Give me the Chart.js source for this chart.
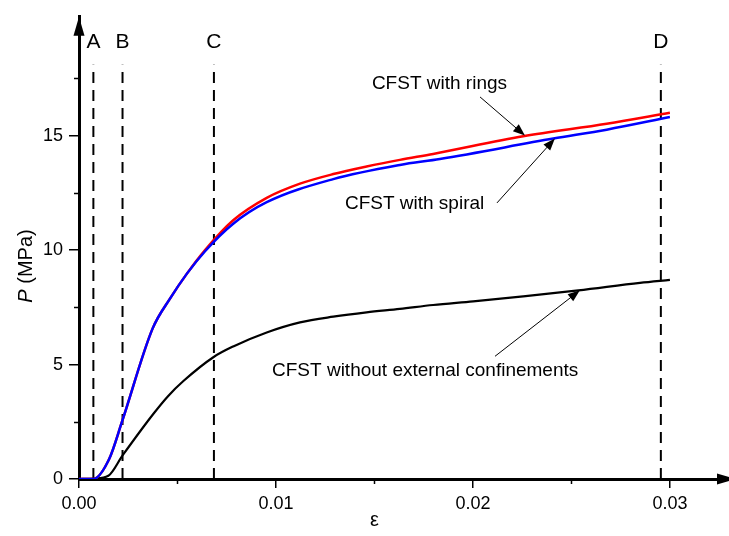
<!DOCTYPE html>
<html>
<head>
<meta charset="utf-8">
<script src="https://cdn.jsdelivr.net/npm/chart.js@4"></script>
<style>
  html, body { margin: 0; padding: 0; background: #fff; }
  #wrap { width: 729px; height: 536px; }
</style>
</head>
<body>
<div id="wrap"><canvas id="chart" width="729" height="536"></canvas></div>
<script>
/* Load-strain curves of CFST columns */

// strain (x) and load P in MPa (y) for each curve
const ringsStrain = [0, 0.00073, 0.00152, 0.0022, 0.00374, 0.00462, 0.00547, 0.0064, 0.00783, 0.00953, 0.01122, 0.01291, 0.0146, 0.01629, 0.01798, 0.02255, 0.02679, 0.030];
const ringsLoad   = [0, 0, 0.85, 2.55, 6.58, 7.88, 8.96, 10.0, 11.3, 12.28, 12.9, 13.32, 13.65, 13.94, 14.2, 14.97, 15.52, 16.0];

const spiralStrain = [0, 0.00073, 0.00152, 0.0022, 0.00374, 0.00462, 0.00547, 0.0064, 0.00783, 0.00953, 0.01291, 0.01629, 0.01832, 0.02408, 0.02679, 0.030];
const spiralLoad   = [0, 0, 0.85, 2.55, 6.58, 7.88, 8.96, 9.95, 11.15, 12.09, 13.1, 13.72, 13.98, 14.87, 15.26, 15.81];

const plainStrain = [0, 0.0008, 0.00149, 0.00222, 0.00377, 0.00453, 0.0053, 0.00682, 0.00783, 0.00953, 0.01122, 0.01291, 0.0146, 0.01629, 0.01798, 0.02001, 0.02255, 0.02535, 0.02848, 0.030];
const plainLoad   = [0, 0.02, 0.14, 1.04, 2.84, 3.63, 4.28, 5.32, 5.79, 6.4, 6.84, 7.09, 7.28, 7.43, 7.6, 7.76, 7.98, 8.24, 8.57, 8.70];

// stage markers A-D (vertical dashed lines)
const stageLabels = ['A', 'B', 'C', 'D'];
const stageStrain = [0.00073, 0.00221, 0.00685, 0.02954];
const stageTop = 18.1;

// axes
const xTicks = [0, 0.01, 0.02, 0.03];
const xMinor = [0.005, 0.015, 0.025];
const yTicks = [0, 5, 10, 15];
const yMinor = [2.5, 7.5, 12.5, 17.5];
const xMax = 0.033;
const yMax = 20.19;

// curve labels with arrows, in data coordinates
const notes = [
  { text: 'CFST with rings', at: [0.01487, 17.25], from: [0.02036, 16.69], to: [0.02264, 15.0] },
  { text: 'CFST with spiral', at: [0.0135, 12.02], from: [0.02122, 12.06], to: [0.02416, 14.87] },
  { text: 'CFST without external confinements', at: [0.0098, 4.71], from: [0.02112, 5.36], to: [0.02543, 8.24] },
];

const FONT = '"Liberation Sans", Arial, sans-serif';

const toXY = (xs, ys) => xs.map((v, i) => ({ x: v, y: ys[i] }));

function curve(label, xs, ys, color, width, order) {
  return {
    label,
    data: toXY(xs, ys),
    borderColor: color,
    borderWidth: width,
    pointRadius: 0,
    cubicInterpolationMode: 'monotone',
    order,
  };
}

const stageSets = stageStrain.map((v, i) => ({
  label: 'stage ' + stageLabels[i],
  data: [{ x: v, y: 0 }, { x: v, y: stageTop }],
  borderColor: '#000',
  borderWidth: 2,
  borderDash: [11, 7],
  pointRadius: 0,
  order: 5,
}));

function arrow(ctx, x1, y1, x2, y2, len, half) {
  const ang = Math.atan2(y2 - y1, x2 - x1);
  ctx.beginPath();
  ctx.moveTo(x1, y1);
  ctx.lineTo(x2 - Math.cos(ang) * len * 0.8, y2 - Math.sin(ang) * len * 0.8);
  ctx.stroke();
  ctx.save();
  ctx.translate(x2, y2);
  ctx.rotate(ang);
  ctx.beginPath();
  ctx.moveTo(0, 0);
  ctx.lineTo(-len, -half);
  ctx.lineTo(-len, half);
  ctx.closePath();
  ctx.fill();
  ctx.restore();
}

/* extra drawing: minor ticks, axis arrows, titles, stage letters, curve notes */
const decor = {
  id: 'decor',
  afterDraw(chart) {
    const { ctx, chartArea: a } = chart;
    const x = chart.scales.x, y = chart.scales.y;
    ctx.save();
    ctx.strokeStyle = '#000';
    ctx.fillStyle = '#000';

    // minor ticks
    ctx.lineWidth = 1.5;
    xMinor.forEach(v => {
      const px = Math.round(x.getPixelForValue(v)) + 0.5;
      ctx.beginPath(); ctx.moveTo(px, a.bottom); ctx.lineTo(px, a.bottom + 5); ctx.stroke();
    });
    yMinor.forEach(v => {
      const py = Math.round(y.getPixelForValue(v)) + 0.5;
      ctx.beginPath(); ctx.moveTo(a.left - 5, py); ctx.lineTo(a.left, py); ctx.stroke();
    });

    // axis arrowheads
    ctx.beginPath();
    ctx.moveTo(a.left, a.top);
    ctx.lineTo(a.left - 5.5, a.top + 19);
    ctx.lineTo(a.left + 5.5, a.top + 19);
    ctx.closePath(); ctx.fill();
    ctx.beginPath();
    ctx.moveTo(a.right + 7, a.bottom);
    ctx.lineTo(a.right - 12, a.bottom - 5.5);
    ctx.lineTo(a.right - 12, a.bottom + 5.5);
    ctx.closePath(); ctx.fill();

    // stage letters
    ctx.font = '21px ' + FONT;
    ctx.textAlign = 'center';
    ctx.textBaseline = 'middle';
    stageLabels.forEach((s, i) => {
      ctx.fillText(s, x.getPixelForValue(stageStrain[i]), y.getPixelForValue(19.1));
    });

    // x title
    ctx.font = '20px ' + FONT;
    ctx.fillText('ε', x.getPixelForValue(0.015), 520);

    // y title: italic P then (MPa), rotated
    ctx.save();
    ctx.translate(26, 266);
    ctx.rotate(-Math.PI / 2);
    ctx.textAlign = 'left';
    const pFont = 'italic 20px ' + FONT, rFont = '20px ' + FONT;
    ctx.font = pFont; const wP = ctx.measureText('P ').width;
    ctx.font = rFont; const wR = ctx.measureText('(MPa)').width;
    let sx = -(wP + wR) / 2;
    ctx.font = pFont; ctx.fillText('P', sx, 0);
    ctx.font = rFont; ctx.fillText('(MPa)', sx + wP, 0);
    ctx.restore();

    // curve notes
    ctx.font = '19px ' + FONT;
    ctx.textAlign = 'left';
    ctx.lineWidth = 1;
    notes.forEach(n => {
      ctx.fillText(n.text, x.getPixelForValue(n.at[0]), y.getPixelForValue(n.at[1]));
      arrow(ctx,
        x.getPixelForValue(n.from[0]), y.getPixelForValue(n.from[1]),
        x.getPixelForValue(n.to[0]), y.getPixelForValue(n.to[1]), 12, 4.5);
    });
    ctx.restore();
  }
};

new Chart(document.getElementById('chart'), {
  type: 'line',
  data: {
    datasets: [
      curve('CFST with spiral', spiralStrain, spiralLoad, '#0000ff', 2.5, 1),
      curve('CFST with rings', ringsStrain, ringsLoad, '#ff0000', 2.5, 2),
      curve('CFST without external confinements', plainStrain, plainLoad, '#000000', 2.2, 3),
      ...stageSets,
    ]
  },
  options: {
    responsive: false,
    animation: false,
    layout: { padding: { top: 12, right: 0, left: 0, bottom: 0 } },
    plugins: {
      legend: { display: false },
      tooltip: { enabled: false },
    },
    scales: {
      x: {
        type: 'linear',
        min: 0,
        max: xMax,
        afterBuildTicks: s => { s.ticks = xTicks.map(value => ({ value })); },
        afterFit: s => { s.height = 57; },
        border: { display: true, color: '#000', width: 3 },
        grid: { drawOnChartArea: false, drawTicks: true, tickLength: 9, tickColor: '#000', lineWidth: 1.5 },
        ticks: {
          color: '#000',
          padding: 5,
          font: { family: FONT, size: 18 },
          callback: v => v.toFixed(2),
        },
      },
      y: {
        type: 'linear',
        min: 0,
        max: yMax,
        afterBuildTicks: s => { s.ticks = yTicks.map(value => ({ value })); },
        afterFit: s => { s.width = 79; },
        border: { display: true, color: '#000', width: 3 },
        grid: { drawOnChartArea: false, drawTicks: true, tickLength: 10, tickColor: '#000', lineWidth: 1.5 },
        ticks: {
          color: '#000',
          padding: 6,
          font: { family: FONT, size: 18 },
          callback: v => String(v),
        },
      },
    },
  },
  plugins: [decor],
});
</script>
</body>
</html>
